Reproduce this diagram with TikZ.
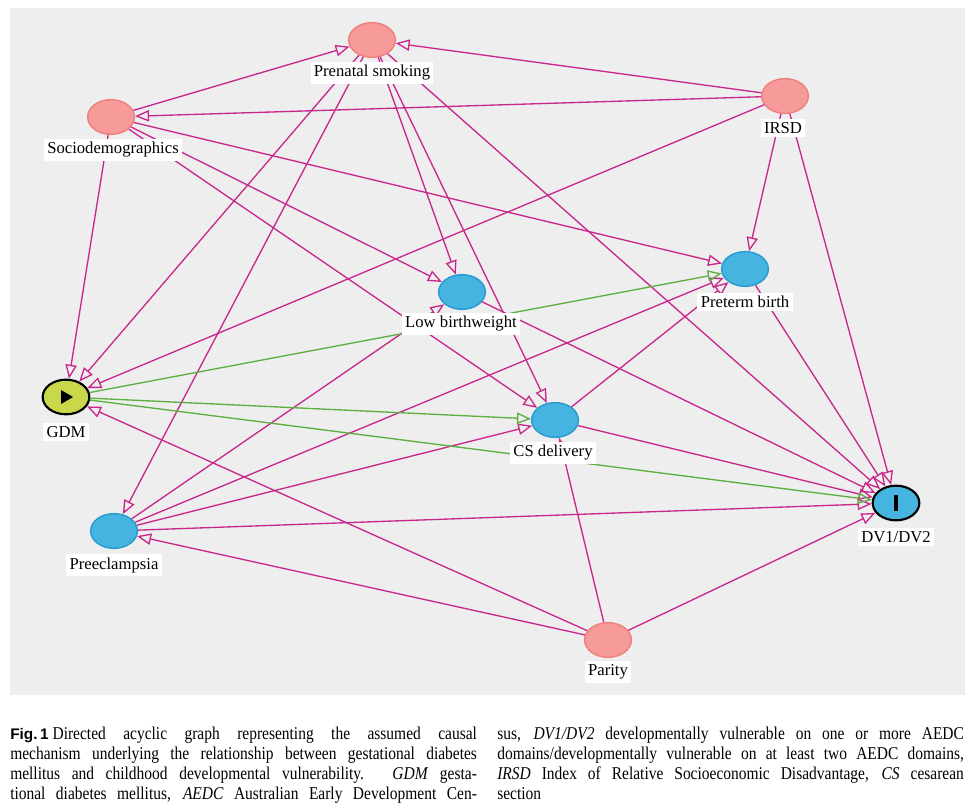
\documentclass[tikz,border=0pt]{standalone}
\usepackage{fontspec}
\setmainfont{Liberation Serif}
\newfontfamily\capsans{Liberation Sans}
\newfontfamily\capserif{Liberation Serif}[FakeStretch=0.86]
\usetikzlibrary{shapes.geometric,arrows.meta}
\definecolor{bg}{HTML}{EEEEEE}
\definecolor{edge}{HTML}{C8288C}
\definecolor{gedge}{HTML}{5CB040}
\definecolor{pinkf}{HTML}{F79A9A}
\definecolor{pinkd}{HTML}{F08080}
\definecolor{bluef}{HTML}{45B4E0}
\definecolor{blued}{HTML}{2A9BD0}
\definecolor{gdmf}{HTML}{C8D84A}
\begin{document}
\begin{tikzpicture}[x=0.75pt,y=-0.75pt,
  nd/.style={ellipse,minimum width=35pt,minimum height=26pt,inner sep=0pt,line width=1.1pt},
  anc/.style={nd,fill=pinkf,draw=pinkd},
  med/.style={nd,fill=bluef,draw=blued},
  expo/.style={nd,fill=gdmf,draw=black,line width=1.6pt},
  outc/.style={nd,fill=bluef,draw=black,line width=1.6pt},
  lab/.style={fill=white,inner sep=2.5pt,font=\fontsize{12.5}{14}\selectfont},
  e/.style={draw=edge,line width=1pt,-{Triangle[open,length=10.5pt,width=8.5pt]}},
  g/.style={draw=gedge,line width=1pt,-{Triangle[open,length=10.5pt,width=8.5pt]}}]
\useasboundingbox (0,0) rectangle (973,812);
\fill[white] (0,0) rectangle (973,812);
\fill[bg] (10,8) rectangle (965,695);
% nodes
\node[anc] (PS) at (372,40) {};
\node[anc] (SD) at (111,117) {};
\node[anc] (IR) at (785,96) {};
\node[med] (PT) at (745,269) {};
\node[med] (LB) at (462,292) {};
\node[expo] (GD) at (66,397) {};
\node[med] (CS) at (555,420) {};
\node[med] (PE) at (114,531) {};
\node[outc] (DV) at (896,503) {};
\node[anc] (PA) at (608,640) {};
% edges
\draw[e] (SD) -- (PS);
\draw[e] (IR) -- (PS);
\draw[e] (IR) -- (SD);
\draw[e] (IR) -- (GD);
\draw[e] (IR) -- (PT);
\draw[e] (IR) -- (DV);
\draw[e] (SD) -- (GD);
\draw[e] (SD) -- (PT);
\draw[e] (SD) -- (LB);
\draw[e] (SD) -- (CS);
\draw[e] (PS) -- (GD);
\draw[e] (PS) -- (PE);
\draw[e] (PS) -- (LB);
\draw[e] (PS) -- (CS);
\draw[e] (PS) -- (DV);
\draw[e] (PT) -- (DV);
\draw[e] (LB) -- (DV);
\draw[e] (CS) -- (PT);
\draw[e] (CS) -- (DV);
\draw[e] (PE) -- (LB);
\draw[e] (PE) -- (PT);
\draw[e] (PE) -- (CS);
\draw[e] (PE) -- (DV);
\draw[e] (PA) -- (PE);
\draw[e] (PA) -- (GD);
\draw[e] (PA) -- (CS);
\draw[e] (PA) -- (DV);
\draw[g] (GD) -- (PT);
\draw[g] (GD) -- (CS);
\draw[g] (GD) -- (DV);
% icons
\fill[black] (61,390) -- (61,404) -- (73,397) -- cycle;
\fill[black] (894,495) rectangle (898,511);
% labels
\node[lab] (PSl) at (372,73) {Prenatal smoking};
\node[lab] (SDl) at (113,150) {Sociodemographics};
\node[lab] (IRl) at (783,128) {IRSD};
\node[lab] (PTl) at (745,302) {Preterm birth};
\node[lab] (LBl) at (461,324) {Low birthweight};
\node[lab] (GDl) at (66,432) {GDM};
\node[lab] (CSl) at (553,453) {CS delivery};
\node[lab] (PEl) at (114,565) {Preeclampsia};
\node[lab] (DVl) at (896,537) {DV1/DV2};
\node[lab] (PAl) at (608,672) {Parity};
% caption
\node[anchor=north west,inner sep=0pt,font=\capserif\fontsize{13.5}{15}\selectfont,align=left] (capL) at (10,727) {%
\hbox to 350pt{{\capsans\bfseries\fontsize{11.5}{15}\selectfont Fig.\,1}\kern3pt Directed acyclic graph representing the assumed causal}\\
\hbox to 350pt{mechanism underlying the relationship between gestational diabetes}\\
\hbox to 350pt{mellitus and childhood developmental vulnerability. \textit{GDM} gesta-}\\
\hbox to 350pt{tional diabetes mellitus, \textit{AEDC} Australian Early Development Cen-}};
\node[anchor=north west,inner sep=0pt,font=\capserif\fontsize{13.5}{15}\selectfont,align=left] (capR) at (497,727) {%
\hbox to 350pt{sus, \textit{DV1/DV2} developmentally vulnerable on one or more AEDC}\\
\hbox to 350pt{domains/developmentally vulnerable on at least two AEDC domains,}\\
\hbox to 350pt{\textit{IRSD} Index of Relative Socioeconomic Disadvantage, \textit{CS} cesarean}\\
section};
\end{tikzpicture}
\end{document}
